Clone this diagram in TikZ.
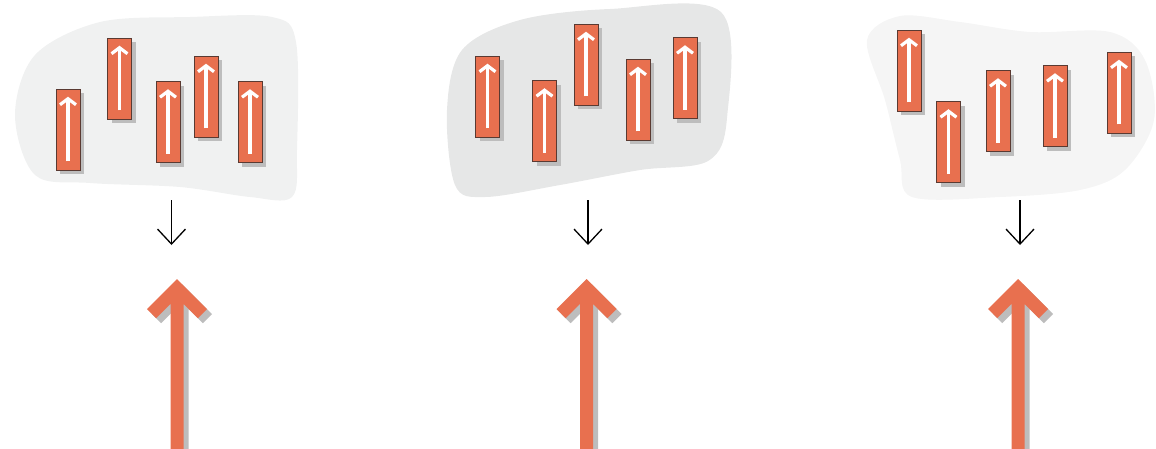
\documentclass[tikz,border=0pt]{standalone}
\usetikzlibrary{arrows.meta,shadows}
\definecolor{spinred}{HTML}{E8704F}
\definecolor{spinedge}{HTML}{5A3A32}
\definecolor{spinshade}{HTML}{BDBDBD}
\definecolor{blobA}{HTML}{F0F1F1}
\definecolor{blobB}{HTML}{E6E7E7}
\definecolor{blobC}{HTML}{F5F5F5}
\tikzset{
  spin/.style={draw=spinedge, line width=0.6pt, fill=spinred, minimum width=24pt, minimum height=81pt, inner sep=0pt,
    drop shadow={shadow xshift=4pt, shadow yshift=-4pt, fill=spinshade, opacity=1}},
  inarrow/.style={white, line width=3.2pt, -{Straight Barb[length=6pt,width=16pt]}},
  sumarrow/.style={black, line width=1.3pt, -{Straight Barb[length=15pt,width=28pt]}},
}
\begin{document}
\begin{tikzpicture}[x=1pt, y=-1pt]
\useasboundingbox (0,0) rectangle (1156,448);
% Domains
\fill[blobA] plot[smooth cycle, tension=0.55] coordinates {(15,115) (35,55) (100,22) (190,17) (272,17) (296,42) (297,150) (292,197) (250,197) (180,187) (90,183) (35,175)};
\fill[blobB] plot[smooth cycle, tension=0.55] coordinates {(447,110) (462,50) (520,20) (610,9) (721,12) (727,118) (708,161) (640,170) (560,185) (485,197) (455,185)};
\fill[blobC] plot[smooth cycle, tension=0.55] coordinates {(867,40) (900,16) (960,22) (1030,32) (1110,32) (1145,60) (1154,120) (1125,170) (1080,190) (1000,197) (912,197) (900,160) (885,100)};
% Spins in each domain
\foreach \n/\x/\y in {a1/68/129.5, a2/119.5/78.5, a3/168/122, a4/206/96.5, a5/250/122,
                      b1/487.5/96.5, b2/544.5/121, b3/586/64.5, b4/638/99.5, b5/685/78,
                      c1/909/70.5, c2/948.5/142, c3/998/111, c4/1055/106, c5/1119/92.5}{
  \node[spin] (\n) at (\x,\y) {};
  \draw[inarrow] ([yshift=9pt]\n.south) -- ([yshift=-8pt]\n.north);
}
% Sum arrows
\foreach \i/\x in {1/171.5, 2/588, 3/1020}{
  \coordinate (top\i) at (\x,200);
  \coordinate (tip\i) at (\x,245);
  \draw[sumarrow] (top\i) -- (tip\i);
}
% Net moments
\foreach \i/\cx in {1/177, 2/586.5, 3/1018}{
  \fill[spinshade] (\cx+5,284) -- (\cx-25,314) -- (\cx-15.8,323.2) -- (\cx-1.5,308.9) -- (\cx-1.5,455) -- (\cx+11.5,455) -- (\cx+11.5,308.9) -- (\cx+25.8,323.2) -- (\cx+35,314) -- cycle;
  \fill[spinred] (\cx,279) -- (\cx-30,309) -- (\cx-20.8,318.2) -- (\cx-6.5,303.9) -- (\cx-6.5,450) -- (\cx+6.5,450) -- (\cx+6.5,303.9) -- (\cx+20.8,318.2) -- (\cx+30,309) -- cycle;
}
\end{tikzpicture}
\end{document}
